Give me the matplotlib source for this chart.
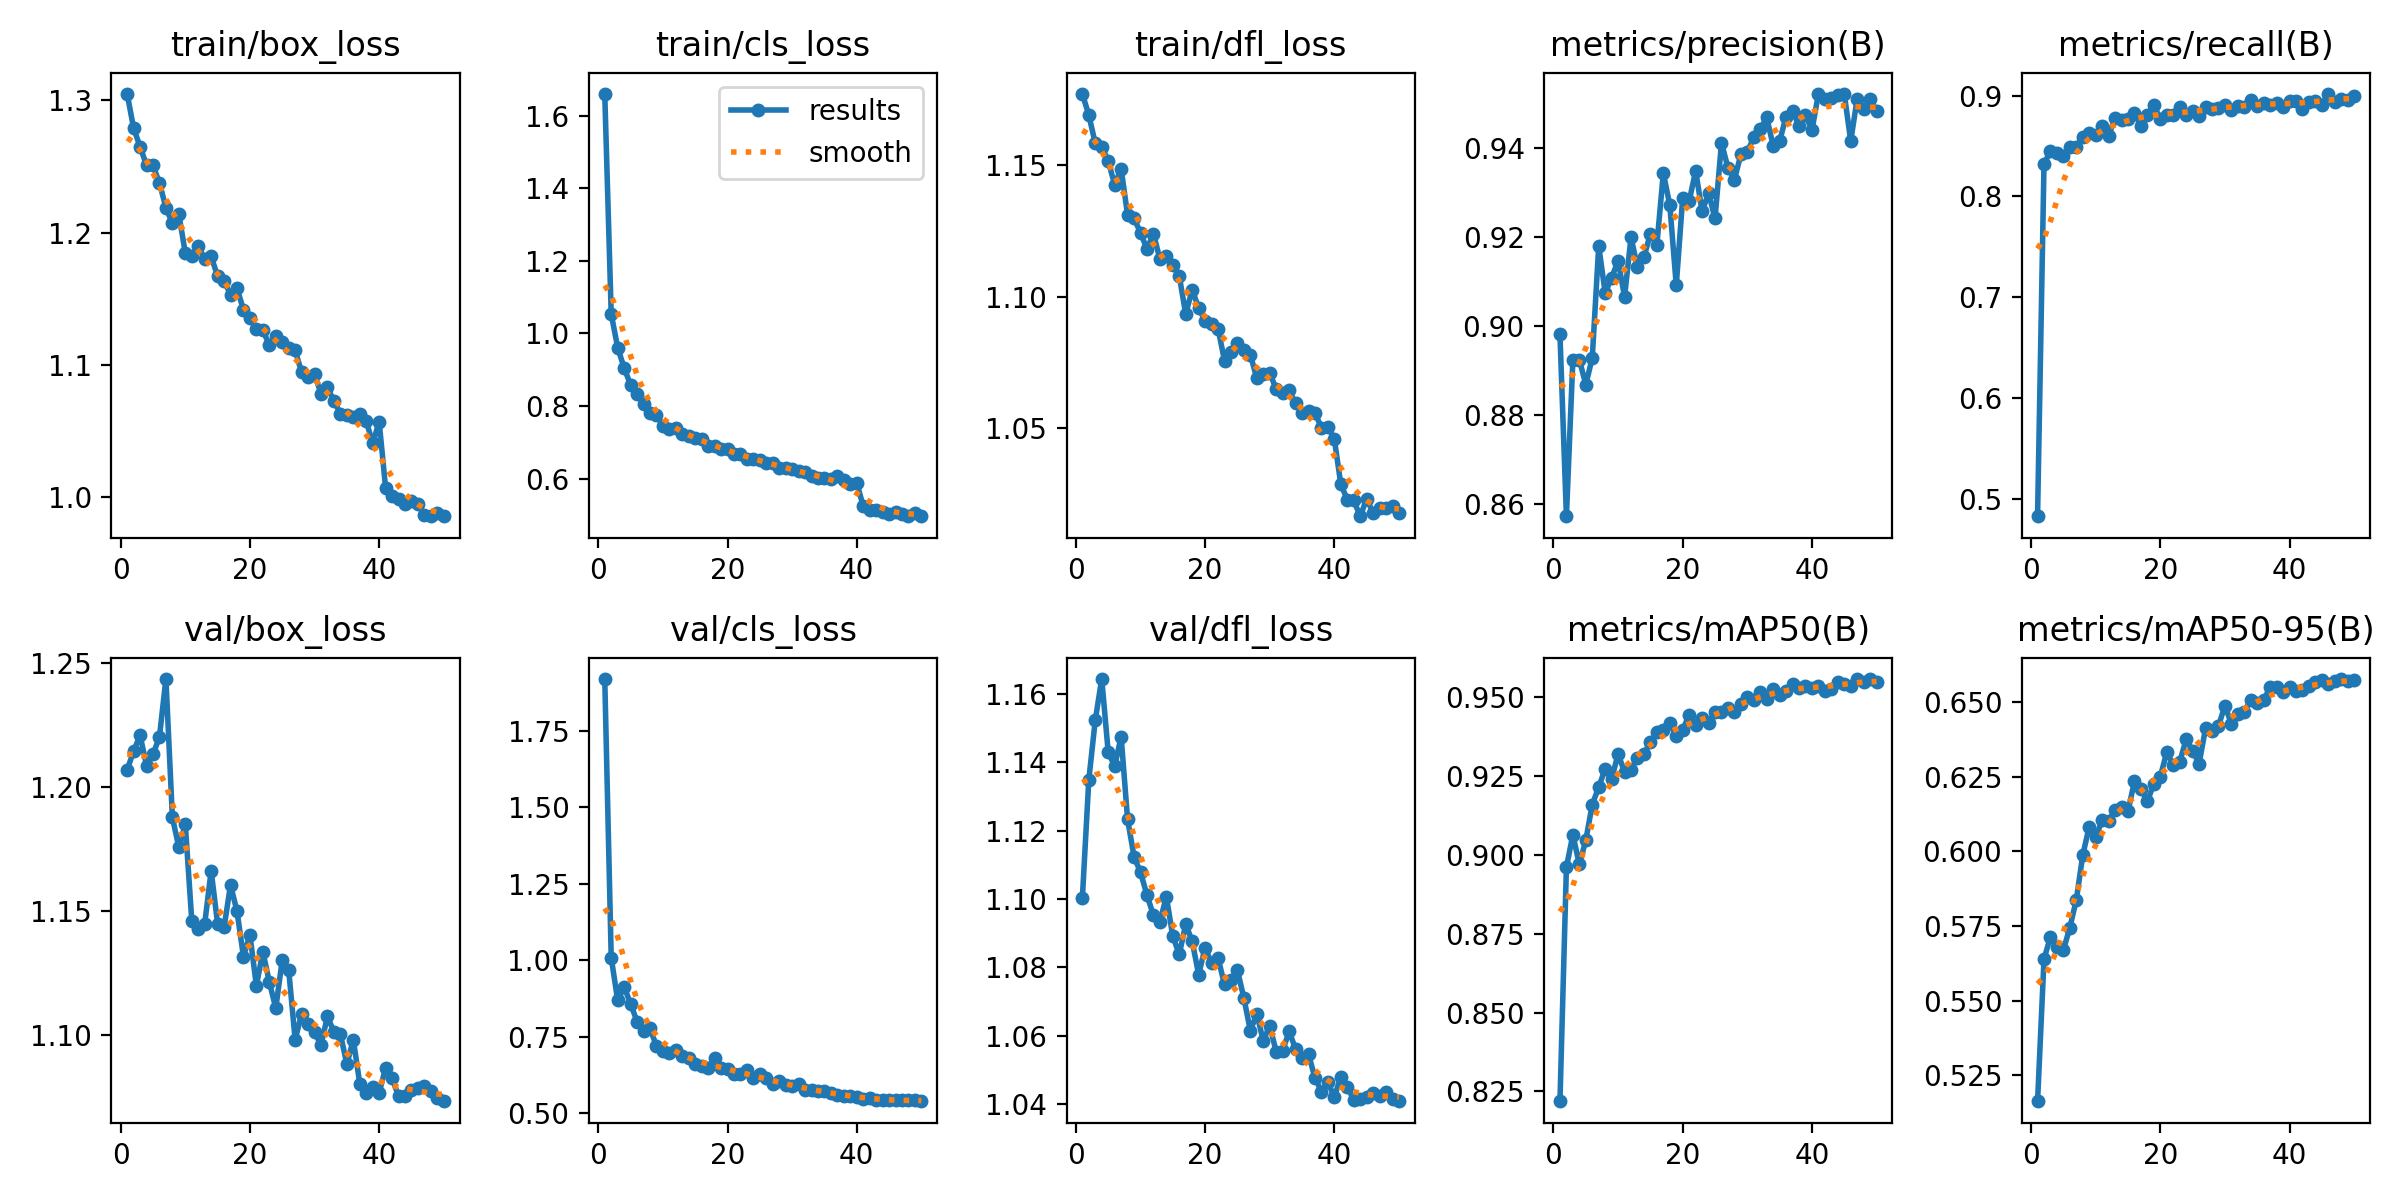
import numpy as np
import matplotlib
matplotlib.use("Agg")
import matplotlib.pyplot as plt
from matplotlib.ticker import MultipleLocator

epochs = list(range(1, 51))

titles = ["train/box_loss", "train/cls_loss", "train/dfl_loss", "metrics/precision(B)", "metrics/recall(B)",
          "val/box_loss", "val/cls_loss", "val/dfl_loss", "metrics/mAP50(B)", "metrics/mAP50-95(B)"]

train_box_loss = [1.305, 1.279, 1.265, 1.251, 1.251, 1.2375, 1.219, 1.207, 1.214, 1.1846,
                  1.1826, 1.190, 1.180, 1.182, 1.1672, 1.1634, 1.1532, 1.158, 1.1417, 1.1353,
                  1.127, 1.1264, 1.115, 1.122, 1.1175, 1.1131, 1.111, 1.0945, 1.0907, 1.093,
                  1.0784, 1.083, 1.0728, 1.0633, 1.062, 1.0605, 1.063, 1.0575, 1.0409, 1.057,
                  1.0069, 1.0013, 0.9983, 0.995, 0.997, 0.995, 0.9865, 0.9855, 0.988, 0.9855]

train_cls_loss = [1.660, 1.0535, 0.961, 0.905, 0.858, 0.832, 0.807, 0.781, 0.775, 0.745,
                  0.736, 0.739, 0.722, 0.717, 0.7125, 0.710, 0.691, 0.691, 0.682, 0.682,
                  0.668, 0.668, 0.654, 0.654, 0.651, 0.6445, 0.6445, 0.629, 0.629, 0.626,
                  0.621, 0.619, 0.607, 0.603, 0.601, 0.598, 0.607, 0.596, 0.584, 0.589,
                  0.524, 0.514, 0.513, 0.508, 0.503, 0.507, 0.503, 0.496, 0.505, 0.498]

train_dfl_loss = [1.177, 1.1689, 1.1582, 1.1569, 1.1515, 1.1425, 1.1486, 1.131, 1.1297, 1.1243,
                  1.1181, 1.1239, 1.1143, 1.1156, 1.112, 1.1078, 1.0934, 1.1027, 1.0956, 1.0909,
                  1.0895, 1.0879, 1.0757, 1.0789, 1.0824, 1.0796, 1.078, 1.069, 1.0708, 1.0712,
                  1.0648, 1.0635, 1.0644, 1.0596, 1.0558, 1.0567, 1.0558, 1.0503, 1.0506, 1.0459,
                  1.0288, 1.023, 1.0227, 1.0166, 1.0233, 1.0179, 1.0198, 1.0198, 1.0204, 1.0179]

precision = [0.8981, 0.8572, 0.8924, 0.8924, 0.8868, 0.8928, 0.9179, 0.9074, 0.9108, 0.9146,
             0.9065, 0.9199, 0.9131, 0.9154, 0.9207, 0.9182, 0.9343, 0.9271, 0.9091, 0.9288,
             0.928, 0.9348, 0.9257, 0.9298, 0.9241, 0.9411, 0.9355, 0.9328, 0.9385, 0.9391,
             0.9423, 0.9442, 0.9468, 0.9404, 0.9415, 0.947, 0.9482, 0.9449, 0.9474, 0.9439,
             0.9521, 0.951, 0.9512, 0.9518, 0.9521, 0.9415, 0.951, 0.9487, 0.951, 0.9482]

recall = [0.4826, 0.8322, 0.8449, 0.8425, 0.8402, 0.8492, 0.8492, 0.8592, 0.8626, 0.8609,
          0.8693, 0.8602, 0.8776, 0.8759, 0.8769, 0.8826, 0.8693, 0.881, 0.8903, 0.8769,
          0.8803, 0.881, 0.8883, 0.881, 0.885, 0.8793, 0.8883, 0.887, 0.8876, 0.8903,
          0.886, 0.8893, 0.8883, 0.896, 0.8893, 0.8926, 0.891, 0.8926, 0.8883, 0.895,
          0.8943, 0.887, 0.8937, 0.895, 0.891, 0.9017, 0.8937, 0.897, 0.896, 0.900]

val_box_loss = [1.2068, 1.2143, 1.2207, 1.2085, 1.213, 1.2201, 1.2435, 1.1876, 1.1756, 1.1848,
                1.146, 1.1428, 1.1447, 1.1661, 1.1447, 1.1433, 1.1604, 1.1498, 1.1315, 1.1403,
                1.1197, 1.1335, 1.1213, 1.1107, 1.1301, 1.1261, 1.098, 1.1084, 1.1044, 1.101,
                1.0958, 1.1075, 1.101, 1.1003, 1.0881, 1.098, 1.0803, 1.0765, 1.079, 1.0765,
                1.0867, 1.0826, 1.0752, 1.0754, 1.0776, 1.0786, 1.0792, 1.0772, 1.0745, 1.0731]

val_cls_loss = [1.9207, 1.009, 0.869, 0.913, 0.858, 0.7996, 0.770, 0.7775, 0.720, 0.7037,
                0.698, 0.707, 0.687, 0.682, 0.660, 0.654, 0.649, 0.682, 0.649, 0.643,
                0.627, 0.627, 0.641, 0.616, 0.627, 0.616, 0.594, 0.605, 0.5915, 0.588,
                0.597, 0.575, 0.575, 0.572, 0.572, 0.566, 0.561, 0.557, 0.557, 0.554,
                0.547, 0.549, 0.544, 0.542, 0.542, 0.542, 0.542, 0.542, 0.542, 0.5385]

val_dfl_loss = [1.1002, 1.1349, 1.1523, 1.1644, 1.143, 1.1388, 1.1475, 1.1233, 1.1124, 1.1078,
                1.1012, 1.0952, 1.0933, 1.1007, 1.0891, 1.0838, 1.0927, 1.0876, 1.0779, 1.0858,
                1.0812, 1.0827, 1.075, 1.0763, 1.0792, 1.071, 1.0615, 1.0664, 1.0585, 1.063,
                1.0553, 1.0556, 1.0613, 1.0561, 1.0536, 1.0546, 1.0477, 1.0437, 1.0464, 1.0421,
                1.048, 1.045, 1.0413, 1.0415, 1.0421, 1.0434, 1.0425, 1.0437, 1.0416, 1.0408]

map50 = [0.8218, 0.8961, 0.9064, 0.897, 0.9047, 0.916, 0.9215, 0.9274, 0.9242, 0.932,
         0.9263, 0.9271, 0.9309, 0.932, 0.9359, 0.9391, 0.9397, 0.942, 0.9377, 0.9397,
         0.9445, 0.9413, 0.9434, 0.9418, 0.9455, 0.9455, 0.9466, 0.9455, 0.948, 0.9501,
         0.9493, 0.9516, 0.9495, 0.9527, 0.9509, 0.9519, 0.9541, 0.953, 0.9537, 0.953,
         0.9537, 0.9519, 0.9527, 0.9548, 0.9544, 0.9537, 0.9559, 0.9548, 0.9559, 0.9548]

map50_95 = [0.5163, 0.5639, 0.5715, 0.5681, 0.567, 0.5745, 0.5838, 0.5988, 0.6083, 0.6047,
            0.6105, 0.6101, 0.6139, 0.615, 0.6134, 0.6236, 0.621, 0.6168, 0.6227, 0.625,
            0.6333, 0.6289, 0.63, 0.6375, 0.6337, 0.6294, 0.6412, 0.6404, 0.642, 0.6488,
            0.6427, 0.6461, 0.6468, 0.6508, 0.6497, 0.6506, 0.6551, 0.6551, 0.6533, 0.6551,
            0.6536, 0.6539, 0.6555, 0.6566, 0.6573, 0.6559, 0.657, 0.6578, 0.657, 0.6575]

series = [train_box_loss, train_cls_loss, train_dfl_loss, precision, recall,
          val_box_loss, val_cls_loss, val_dfl_loss, map50, map50_95]

# y tick spacing used in each panel
ytick_steps = [0.1, 0.2, 0.05, 0.02, 0.1, 0.05, 0.25, 0.02, 0.025, 0.025]


def gaussian_smooth(y, sigma=3.0, truncate=4.0):
    y = np.asarray(y, dtype=float)
    r = int(truncate * sigma + 0.5)
    k = np.arange(-r, r + 1)
    w = np.exp(-0.5 * (k / sigma) ** 2)
    w /= w.sum()
    yp = np.pad(y, r, mode="symmetric")
    return np.convolve(yp, w, mode="valid")


fig, axes = plt.subplots(2, 5, figsize=(12, 6), tight_layout=True)
axes = axes.ravel()
x = np.array(epochs)
for ax, title, y, step in zip(axes, titles, series, ytick_steps):
    ax.plot(x, y, marker=".", label="results", linewidth=2, markersize=8)
    ax.plot(x, gaussian_smooth(y), ":", label="smooth", linewidth=2)
    ax.set_title(title, fontsize=12)
    ax.yaxis.set_major_locator(MultipleLocator(step))
axes[1].legend()
fig.savefig("out.png", dpi=200)
